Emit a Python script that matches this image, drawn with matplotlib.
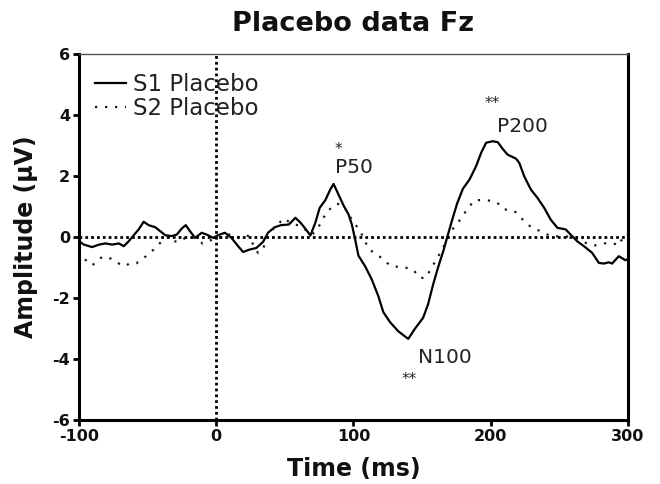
import matplotlib
matplotlib.use("Agg")
import matplotlib.pyplot as plt

# ---- data ----
s1_time = [-100, -96.4, -90.4, -85.5, -80.7, -75.8, -71, -67.4, -63.8, -60.1, -56.5, -52.9,
           -49.3, -44.4, -40.8, -37.2, -32.4, -28.8, -25.1, -22.2, -19.1, -15.4, -10.6, -7,
           -2.2, 1.4, 6.3, 11.1, 15.9, 19.6, 24.4, 29.2, 34.1, 37.7, 42.5, 47.3, 52.9, 57.7,
           61.4, 65, 68.6, 72.2, 75.4, 79.5, 83.1, 85.5, 89.1, 92.8, 96.4, 98.8, 101.2, 103.6,
           108.5, 113.3, 118.1, 121.7, 126.6, 132.6, 139.9, 144.7, 150.7, 154.3, 158, 161.6,
           165.5, 168, 171.5, 175.5, 179.7, 184.6, 189.3, 193, 196.6, 201.4, 205.1, 208.7,
           212.3, 218.4, 220.8, 224.4, 229.2, 234.1, 238.9, 243.7, 248.6, 254.6, 258.2, 263,
           267.9, 273.9, 278.8, 282.4, 286, 288.4, 293.3, 298.1, 300]
s1_vals = [-0.14, -0.25, -0.33, -0.25, -0.21, -0.25, -0.21, -0.3, -0.14, 0.06, 0.25, 0.5,
           0.39, 0.32, 0.19, 0.06, 0.03, 0.08, 0.28, 0.39, 0.19, -0.03, 0.14, 0.08,
           -0.03, 0.06, 0.14, -0.03, -0.3, -0.49, -0.41, -0.36, -0.16, 0.14, 0.32, 0.39, 0.41, 0.63,
           0.47, 0.27, 0.05, 0.47, 0.96, 1.21, 1.56, 1.74, 1.39, 1.03, 0.74, 0.41, -0.08, -0.61,
           -0.96, -1.39, -1.94, -2.46, -2.79, -3.09, -3.34, -3.01, -2.65, -2.21, -1.56, -1.0,
           -0.45, -0.05, 0.5, 1.1, 1.58, 1.89, 2.32, 2.76, 3.09, 3.14, 3.11, 2.89,
           2.7, 2.57, 2.43, 1.99, 1.56, 1.28, 0.96, 0.57, 0.3, 0.25, 0.08, -0.14,
           -0.3, -0.52, -0.85, -0.87, -0.83, -0.87, -0.63, -0.76, -0.72]

s2_time = [-100, -97.6, -94, -90.4, -86.7, -83.1, -78.8, -74.6, -70.5, -66.7, -62.5, -58.2,
           -54.1, -50.5, -46.9, -43.3, -39.6, -34.8, -30.7, -26.8, -22.7, -19.1, -14.3, -9.9,
           -5.8, 1.4, 4.6, 8.7, 12.3, 17.2, 20.8, 24.4, 25.6, 30.4, 34.1, 35.3, 37.7, 42.5,
           46.2, 48.6, 52.2, 56.5, 61, 66.2, 69.8, 73.4, 77, 80.7, 84.3, 87.4, 91.5, 95.2,
           98.8, 104.9, 108.5, 110.9, 114.5, 119.3, 123, 126.6, 130.2, 134.3, 138.6, 143.5,
           148.3, 152.7, 156.8, 160.4, 164, 167.6, 171.5, 176.1, 181, 184.6, 188.2, 193,
           197.8, 202.7, 206.3, 209.9, 213.5, 218.3, 222, 226.8, 231.7, 236.5, 241.3, 246.2,
           249.8, 253.4, 258.2, 264.3, 269.1, 275.1, 279.9, 284.8, 289.6, 293.3, 296.9, 300]
s2_vals = [-0.47, -0.63, -0.81, -0.93, -0.79, -0.65, -0.66, -0.77, -0.88, -0.96, -0.85, -0.86,
           -0.74, -0.6, -0.47, -0.3, -0.14, 0.03, -0.14, -0.16, -0.03, 0.0, -0.03, -0.22,
           -0.14, 0.0, -0.03, 0.08, 0.08, -0.03, 0.05, 0.03, -0.14, -0.52, -0.41, -0.22, 0.03, 0.32,
           0.47, 0.61, 0.52, 0.41, 0.38, 0.19, 0.08, 0.25, 0.52, 0.85, 0.96, 1.09, 1.07, 0.85,
           0.57, 0.19, -0.14, -0.39, -0.5, -0.65, -0.79, -0.93, -0.98, -0.96, -1.01, -1.07,
           -1.34, -1.34, -1.01, -0.74, -0.46, -0.14, 0.22, 0.47, 0.79, 1.01, 1.21, 1.21,
           1.2, 1.17, 1.07, 0.9, 0.9, 0.81, 0.63, 0.41, 0.27, 0.19, 0.08, 0.01,
           0.03, 0.05, -0.03, -0.08, -0.19, -0.28, -0.25, -0.19, -0.21, -0.28, 0.05, 0.1]

series_labels = ["S1 Placebo", "S2 Placebo"]
x_ticks = [-100, 0, 100, 200, 300]
y_ticks = [-6, -4, -2, 0, 2, 4, 6]
peak_labels = ["P50", "N100", "P200"]
peak_pos = [(100, 2.28), (166.7, -3.95), (223.2, 3.62)]
sig_labels = ["*", "**", "**"]
sig_pos = [(89.1, 2.86), (140.6, -4.67), (201.4, 4.37)]

# ---- figure ----
fig = plt.figure(figsize=(6.6, 4.84), dpi=100)
ax = fig.add_axes([0.1197, 0.1322, 0.8318, 0.7562])

ax.plot(s1_time, s1_vals, color="black", lw=1.6, ls="-", label=series_labels[0])
ax.plot(s2_time, s2_vals, color="#1a1a1a", lw=1.6, ls=(0, (1, 3.5)), label=series_labels[1])

ax.axhline(0, color="black", lw=2.0, ls=(0, (1, 1.1)), zorder=3)
ax.axvline(0, color="black", lw=2.0, ls=(0, (1, 1.1)), zorder=3)

ax.set_xlim(-100, 300)
ax.set_ylim(-6, 6)
ax.set_xticks(x_ticks)
ax.set_yticks(y_ticks)
ax.set_xticklabels([str(t) for t in x_ticks], fontsize=11.5, fontweight="bold", color="#111111")
ax.set_yticklabels([str(t) for t in y_ticks], fontsize=11.5, fontweight="bold", color="#111111")
ax.tick_params(direction="out", length=4.5, width=2.0, pad=2, color="black")

for side in ["left", "bottom", "right"]:
    ax.spines[side].set_linewidth(2.2)
    ax.spines[side].set_color("black")
ax.spines["top"].set_linewidth(1.0)
ax.spines["top"].set_color("#555555")

ax.set_xlabel("Time (ms)", fontsize=17, fontweight="bold", color="#111111", labelpad=9.5)
ax.set_ylabel("Amplitude (\u03bcV)", fontsize=17, fontweight="bold", color="#111111", labelpad=10)
ax.set_title("Placebo data Fz", fontsize=19.5, fontweight="bold", color="#111111", pad=16.5)

leg = ax.legend(loc="upper left", bbox_to_anchor=(0.0036, 0.986), frameon=False, fontsize=16.5,
                handlelength=1.35, handletextpad=0.34, labelspacing=0.05,
                borderaxespad=0.3, borderpad=0.3)
for t in leg.get_texts():
    t.set_color("#222222")

for lab, (px, py) in zip(peak_labels, peak_pos):
    ax.text(px, py, lab, fontsize=14.5, ha="center", va="center", color="#222222")
for lab, (px, py) in zip(sig_labels, sig_pos):
    ax.text(px, py, lab, fontsize=11, ha="center", va="center", color="#222222")

fig.savefig("out.png", dpi=100)
